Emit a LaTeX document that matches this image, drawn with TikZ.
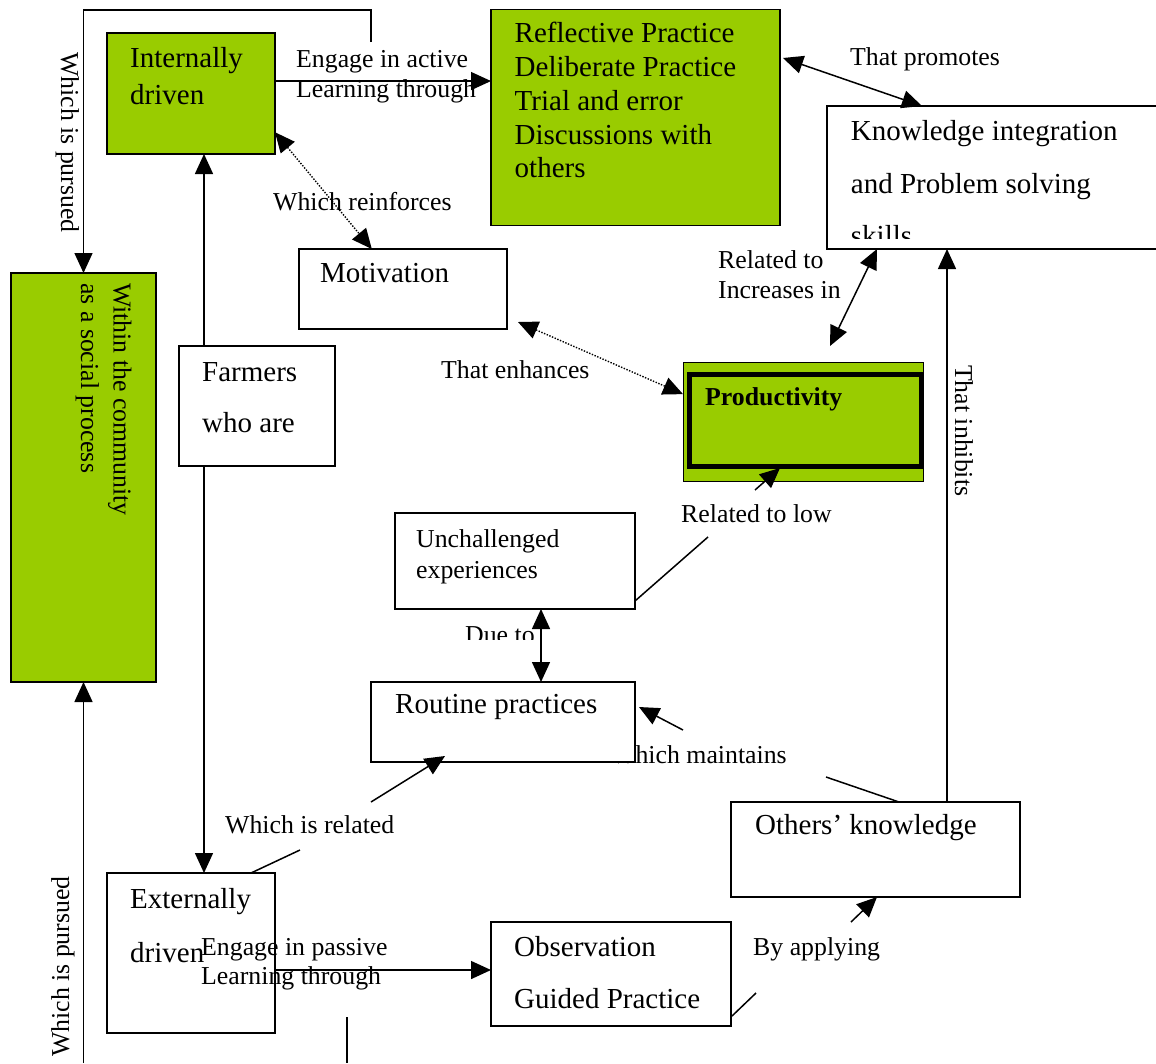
\documentclass[tikz,border=0pt]{standalone}
\usepackage{fontspec}
\setmainfont{Liberation Serif}
\usetikzlibrary{arrows.meta,calc}
\definecolor{leaf}{RGB}{153,204,0}
\newcommand\BigTxt{\fontsize{29}{34}\selectfont}
\newcommand\SmTxt{\fontsize{25.8}{30}\selectfont}
\begin{document}
\begin{tikzpicture}[x=1pt,y=-1pt,
  box/.style={draw=black,line width=1.5pt,fill=white,anchor=north west,inner sep=0pt,outer sep=0pt},
  gbox/.style={box,fill=leaf},
  big/.style={inner sep=0pt,anchor=base west,font=\BigTxt},
  sml/.style={inner sep=0pt,anchor=base west,font=\SmTxt},
  conn/.style={line width=1.5pt,draw=black},
  arr/.style={conn,-{Triangle[length=20pt,width=18pt]}},
  darr/.style={conn,{Triangle[length=20pt,width=18pt]}-{Triangle[length=20pt,width=18pt]}},
  dots/.style={line width=1.4pt,dash pattern=on 1.4pt off 1.5pt}
]
\useasboundingbox (0,0) rectangle (1156,1063);
\fill[white] (0,0) rectangle (1156,1063);

% ---------- boxes ----------
\node[gbox,minimum width=168pt,minimum height=121pt] (intl) at (107,33) {};
\node[gbox,minimum width=289pt,minimum height=216pt] (refl) at (491,9.5) {};
\node[box,minimum width=345pt,minimum height=143pt] (know) at (827,106) {};
\node[gbox,minimum width=145pt,minimum height=409pt] (comm) at (11,273) {};
\node[box,minimum width=208pt,minimum height=80pt] (motv) at (299,249) {};
\node[box,minimum width=156pt,minimum height=120pt] (farm) at (179,346) {};
\node[gbox,line width=1pt,minimum width=240pt,minimum height=119pt] (prodo) at (683,362) {};
\node[draw=black,line width=5pt,anchor=north west,inner sep=0pt,outer sep=0pt,minimum width=232pt,minimum height=92pt] (prodi) at (689.5,374) {};
\node[box,minimum width=240pt,minimum height=96pt] (unch) at (395,513) {};
% label partly hidden behind the routine box
\node[sml] (lmaint) at (611,763) {Which maintains};
\node[box,minimum width=264pt,minimum height=80pt] (rout) at (371,682) {};
\node[box,minimum width=289pt,minimum height=95pt] (othr) at (731,802) {};
\node[box,minimum width=168pt,minimum height=160pt] (extl) at (107,873) {};
\node[box,minimum width=240pt,minimum height=104pt] (obsv) at (491,922) {};

% ---------- box texts ----------
\node[big] (t1) at (130,67) {Internally};
\node[big] (t2) at (130,104) {driven};
\node[big] (t3) at (514.5,42.7) {Reflective Practice};
\node[big] (t4) at (514.5,76) {Deliberate Practice};
\node[big] (t5) at (514.5,110) {Trial and error};
\node[big] (t6) at (514.5,144) {Discussions with};
\node[big] (t7) at (514.5,177) {others};
\node[big] (t8) at (850.7,140) {Knowledge integration};
\node[big] (t9) at (850.7,193) {and Problem solving};
\begin{scope}
\clip (840,200) rectangle (1000,238.5);
\node[big] (t10) at (850.7,245) {skills};
\end{scope}
\node[sml,rotate=-90] (t11) at (113.6,283) {Within the community};
\node[sml,rotate=-90] (t12) at (81,283) {as a social process};
\node[big] (t13) at (320,282.7) {Motivation};
\node[big] (t14) at (202,381) {Farmers};
\node[big] (t15) at (202,432) {who are};
\node[sml,font=\SmTxt\bfseries] (t16) at (705,405) {Productivity};
\node[sml] (t17) at (416,547) {Unchallenged};
\node[sml] (t18) at (416,578) {experiences};
\node[big] (t19) at (395,713) {Routine practices};
\node[big] (t20) at (755,834) {Others’ knowledge};
\node[big] (t21) at (130,908) {Externally};
\node[big] (t22) at (130,962) {driven};
\node[big] (t23) at (514,956) {Observation};
\node[big] (t24) at (514,1008) {Guided Practice};

% ---------- connectors ----------
\coordinate (ptop) at (371,42);
\coordinate (ptopy) at (83,10);
\draw[arr] (ptop) -- (ptop |- ptopy) -- (comm.north |- ptopy) -- (comm.north);

\coordinate (a1) at ($(intl.north east)!0.397!(intl.south east)$);
\draw[arr] (a1) -- (a1 -| refl.west);

\coordinate (a2) at ($(intl.north east)!0.82!(intl.south east)$);
\coordinate (a3) at ($(motv.north west)!0.35!(motv.north east)$);
\draw[darr,dots] (a2) -- (a3);

\coordinate (vx) at (204,0);
\draw[arr] (farm.north -| vx) -- (intl.south -| vx);
\draw[arr] (farm.south -| vx) -- (extl.north -| vx);

\coordinate (bb) at (0,1063);
\draw[arr] (comm.south |- bb) -- (comm.south);

\coordinate (a4) at ($(motv.south east)+(11,-7)$);
\coordinate (a5) at ($(prodo.north west)!0.27!(prodo.south west)$);
\draw[darr,dots] (a4) -- (a5);

\coordinate (a6) at ($(refl.north east)+(3,48.5)$);
\coordinate (a7) at ($(know.north west)+(95,0)$);
\draw[darr] (a6) -- (a7);

\coordinate (a8) at ($(know.south west)+(50,0)$);
\coordinate (a9) at (830,346);
\draw[darr] (a8) -- (a9);

\coordinate (a10) at ($(othr.north west)+(216,0)$);
\draw[arr] (a10) -- (a10 |- know.south);

\coordinate (a11) at ($(unch.south west)+(146,0)$);
\draw[darr] (a11) -- (a11 |- rout.north);

\coordinate (a12) at ($(unch.south east)+(0,-8)$);
\coordinate (a13) at (708,537);
\draw[conn] (a12) -- (a13);
\coordinate (a14) at (755,490);
\coordinate (a15) at ($(prodi.south west)!0.39!(prodi.south east)+(0,2)$);
\draw[arr] (a14) -- (a15);

\coordinate (a16) at (683,730);
\coordinate (a17) at ($(rout.north east)+(4,25)$);
\draw[arr] (a16) -- (a17);
\coordinate (a18) at (826,777);
\coordinate (a19) at ($(othr.north west)+(168,0)$);
\draw[conn] (a18) -- (a19);

\coordinate (a20) at (371,802);
\coordinate (a21) at ($(rout.south west)+(74,-6)$);
\draw[arr] (a20) -- (a21);
\coordinate (a22) at ($(extl.north west)+(144,0)$);
\coordinate (a23) at (300,850);
\draw[conn] (a22) -- (a23);

\coordinate (a24) at ($(extl.north east)+(0,97)$);
\draw[arr] (a24) -- (a24 -| obsv.west);

\coordinate (a25) at ($(obsv.south east)+(1,-10)$);
\coordinate (a26) at (756,993);
\draw[conn] (a25) -- (a26);
\coordinate (a27) at (851,922);
\coordinate (a28) at ($(othr.south west)+(146,0)$);
\draw[arr] (a27) -- (a28);

\coordinate (a29) at (347,1017);
\coordinate (a30) at (347,1063);
\draw[conn] (a29) -- (a30);

% ---------- connector labels ----------
\node[sml,rotate=-90] (l1) at (61,52) {Which is pursued};
\node[sml] (l2) at (296,67) {Engage in active};
\node[sml] (l3) at (296,97) {Learning through};
\node[sml] (l4) at (850,65) {That promotes};
\node[sml] (l5) at (273,210) {Which reinforces};
\node[sml] (l6) at (718,268) {Related to};
\node[sml] (l7) at (718,298) {Increases in};
\node[sml] (l8) at (441,378) {That enhances};
\node[sml,rotate=-90] (l9) at (955,365) {That inhibits};
\node[sml] (l10) at (681,522) {Related to low};
\begin{scope}
\clip (450,612) rectangle (538,639);
\node[sml] (l11) at (465,643) {Due to};
\end{scope}
\node[sml] (l12) at (225,833) {Which is related};
\node[sml] (l13) at (201,955) {Engage in passive};
\node[sml] (l14) at (201,984) {Learning through};
\node[sml] (l15) at (753,955) {By applying};
\node[sml,rotate=90] (l16) at (69,1057) {Which is pursued};
\end{tikzpicture}
\end{document}
